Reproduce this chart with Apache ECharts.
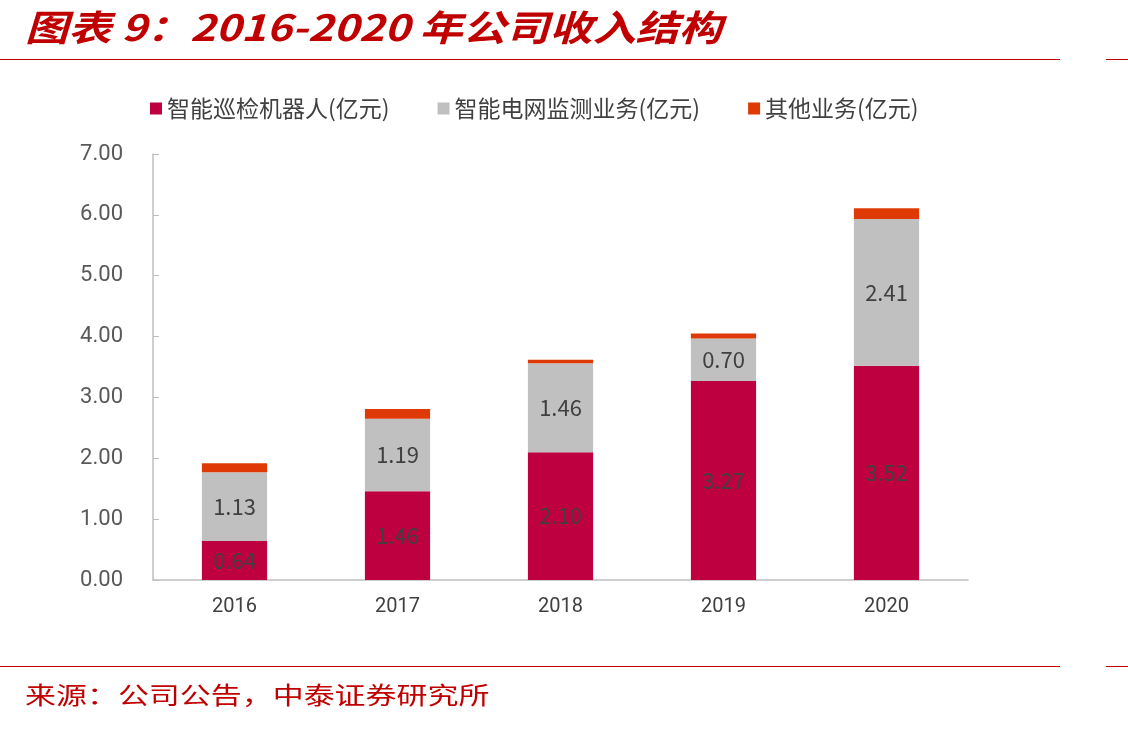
<!DOCTYPE html>
<html>
<head>
<meta charset="utf-8">
<script src="https://cdn.jsdelivr.net/npm/echarts@6/dist/echarts.min.js"></script>
<style>
html,body{margin:0;padding:0;background:#fff;}
#main{width:1128px;height:730px;}
</style>
</head>
<body>
<div id="main"></div>
<script>
var years = ['2016', '2017', '2018', '2019', '2020'];
var robotRev = [0.64, 1.46, 2.10, 3.27, 3.52];   // 智能巡检机器人
var gridRev = [1.13, 1.19, 1.46, 0.70, 2.41];    // 智能电网监测业务
var otherRev = [0.15, 0.16, 0.06, 0.08, 0.18];   // 其他业务
var seriesNames = ['智能巡检机器人(亿元)', '智能电网监测业务(亿元)', '其他业务(亿元)'];
var yTicks = [0, 1, 2, 3, 4, 5, 6, 7];

var cnFont = '"Noto Sans CJK SC", sans-serif';
var dom = document.getElementById('main');
var myChart = echarts.init(dom);

var lbl = {
    show: true,
    position: 'inside',
    color: '#404040',
    fontSize: 22,
    fontFamily: cnFont,
    formatter: function (p) { return p.value.toFixed(2); }
};

myChart.setOption({
    animation: false,
    color: ['#BE0040', '#C0C0C0', '#DF3A05'],
    graphic: [
        {type: 'text', x: 25, y: 9, scaleX: 1.2, style: {text: '图表 9：2016-2020 年公司收入结构', fill: '#C00000',
            font: 'italic bold 36px ' + cnFont}},
        {type: 'line', shape: {x1: 0, y1: 59.5, x2: 1060, y2: 59.5}, style: {stroke: '#C00000', lineWidth: 1}},
        {type: 'line', shape: {x1: 1106, y1: 59.5, x2: 1128, y2: 59.5}, style: {stroke: '#C00000', lineWidth: 1}},
        {type: 'line', shape: {x1: 0, y1: 666.5, x2: 1060, y2: 666.5}, style: {stroke: '#C00000', lineWidth: 1}},
        {type: 'line', shape: {x1: 1106, y1: 666.5, x2: 1128, y2: 666.5}, style: {stroke: '#C00000', lineWidth: 1}},
        {type: 'text', x: 25, y: 683, scaleX: 1.29, style: {text: '来源：公司公告，中泰证券研究所', fill: '#C00000',
            font: '24px ' + cnFont}}
    ],
    legend: {
        top: 92,
        left: 145,
        itemWidth: 12,
        itemHeight: 12,
        itemGap: 48,
        icon: 'rect',
        textStyle: {fontSize: 23, color: '#404040', fontFamily: cnFont},
        data: seriesNames
    },
    grid: {left: 153, right: 160, top: 154, bottom: 150},
    xAxis: {
        type: 'category',
        data: years,
        axisLine: {lineStyle: {color: '#BFBFBF', width: 1.5}},
        axisTick: {show: false},
        axisLabel: {color: '#404040', fontSize: 20, margin: 17, fontFamily: 'Roboto, sans-serif'}
    },
    yAxis: {
        type: 'value',
        min: yTicks[0],
        max: yTicks[yTicks.length - 1],
        interval: 1,
        splitLine: {show: false},
        axisLine: {show: true, lineStyle: {color: '#BFBFBF', width: 1.5}},
        axisTick: {show: true, inside: true, length: 6, lineStyle: {color: '#BFBFBF'}},
        axisLabel: {color: '#595959', fontSize: 22, margin: 30, fontFamily: 'Roboto, sans-serif',
            formatter: function (v) { return v.toFixed(2); }}
    },
    series: [
        {name: seriesNames[0], type: 'bar', stack: 'rev', data: robotRev, barWidth: '40%', label: lbl},
        {name: seriesNames[1], type: 'bar', stack: 'rev', data: gridRev, label: lbl},
        {name: seriesNames[2], type: 'bar', stack: 'rev', data: otherRev}
    ]
});
</script>
</body>
</html>
